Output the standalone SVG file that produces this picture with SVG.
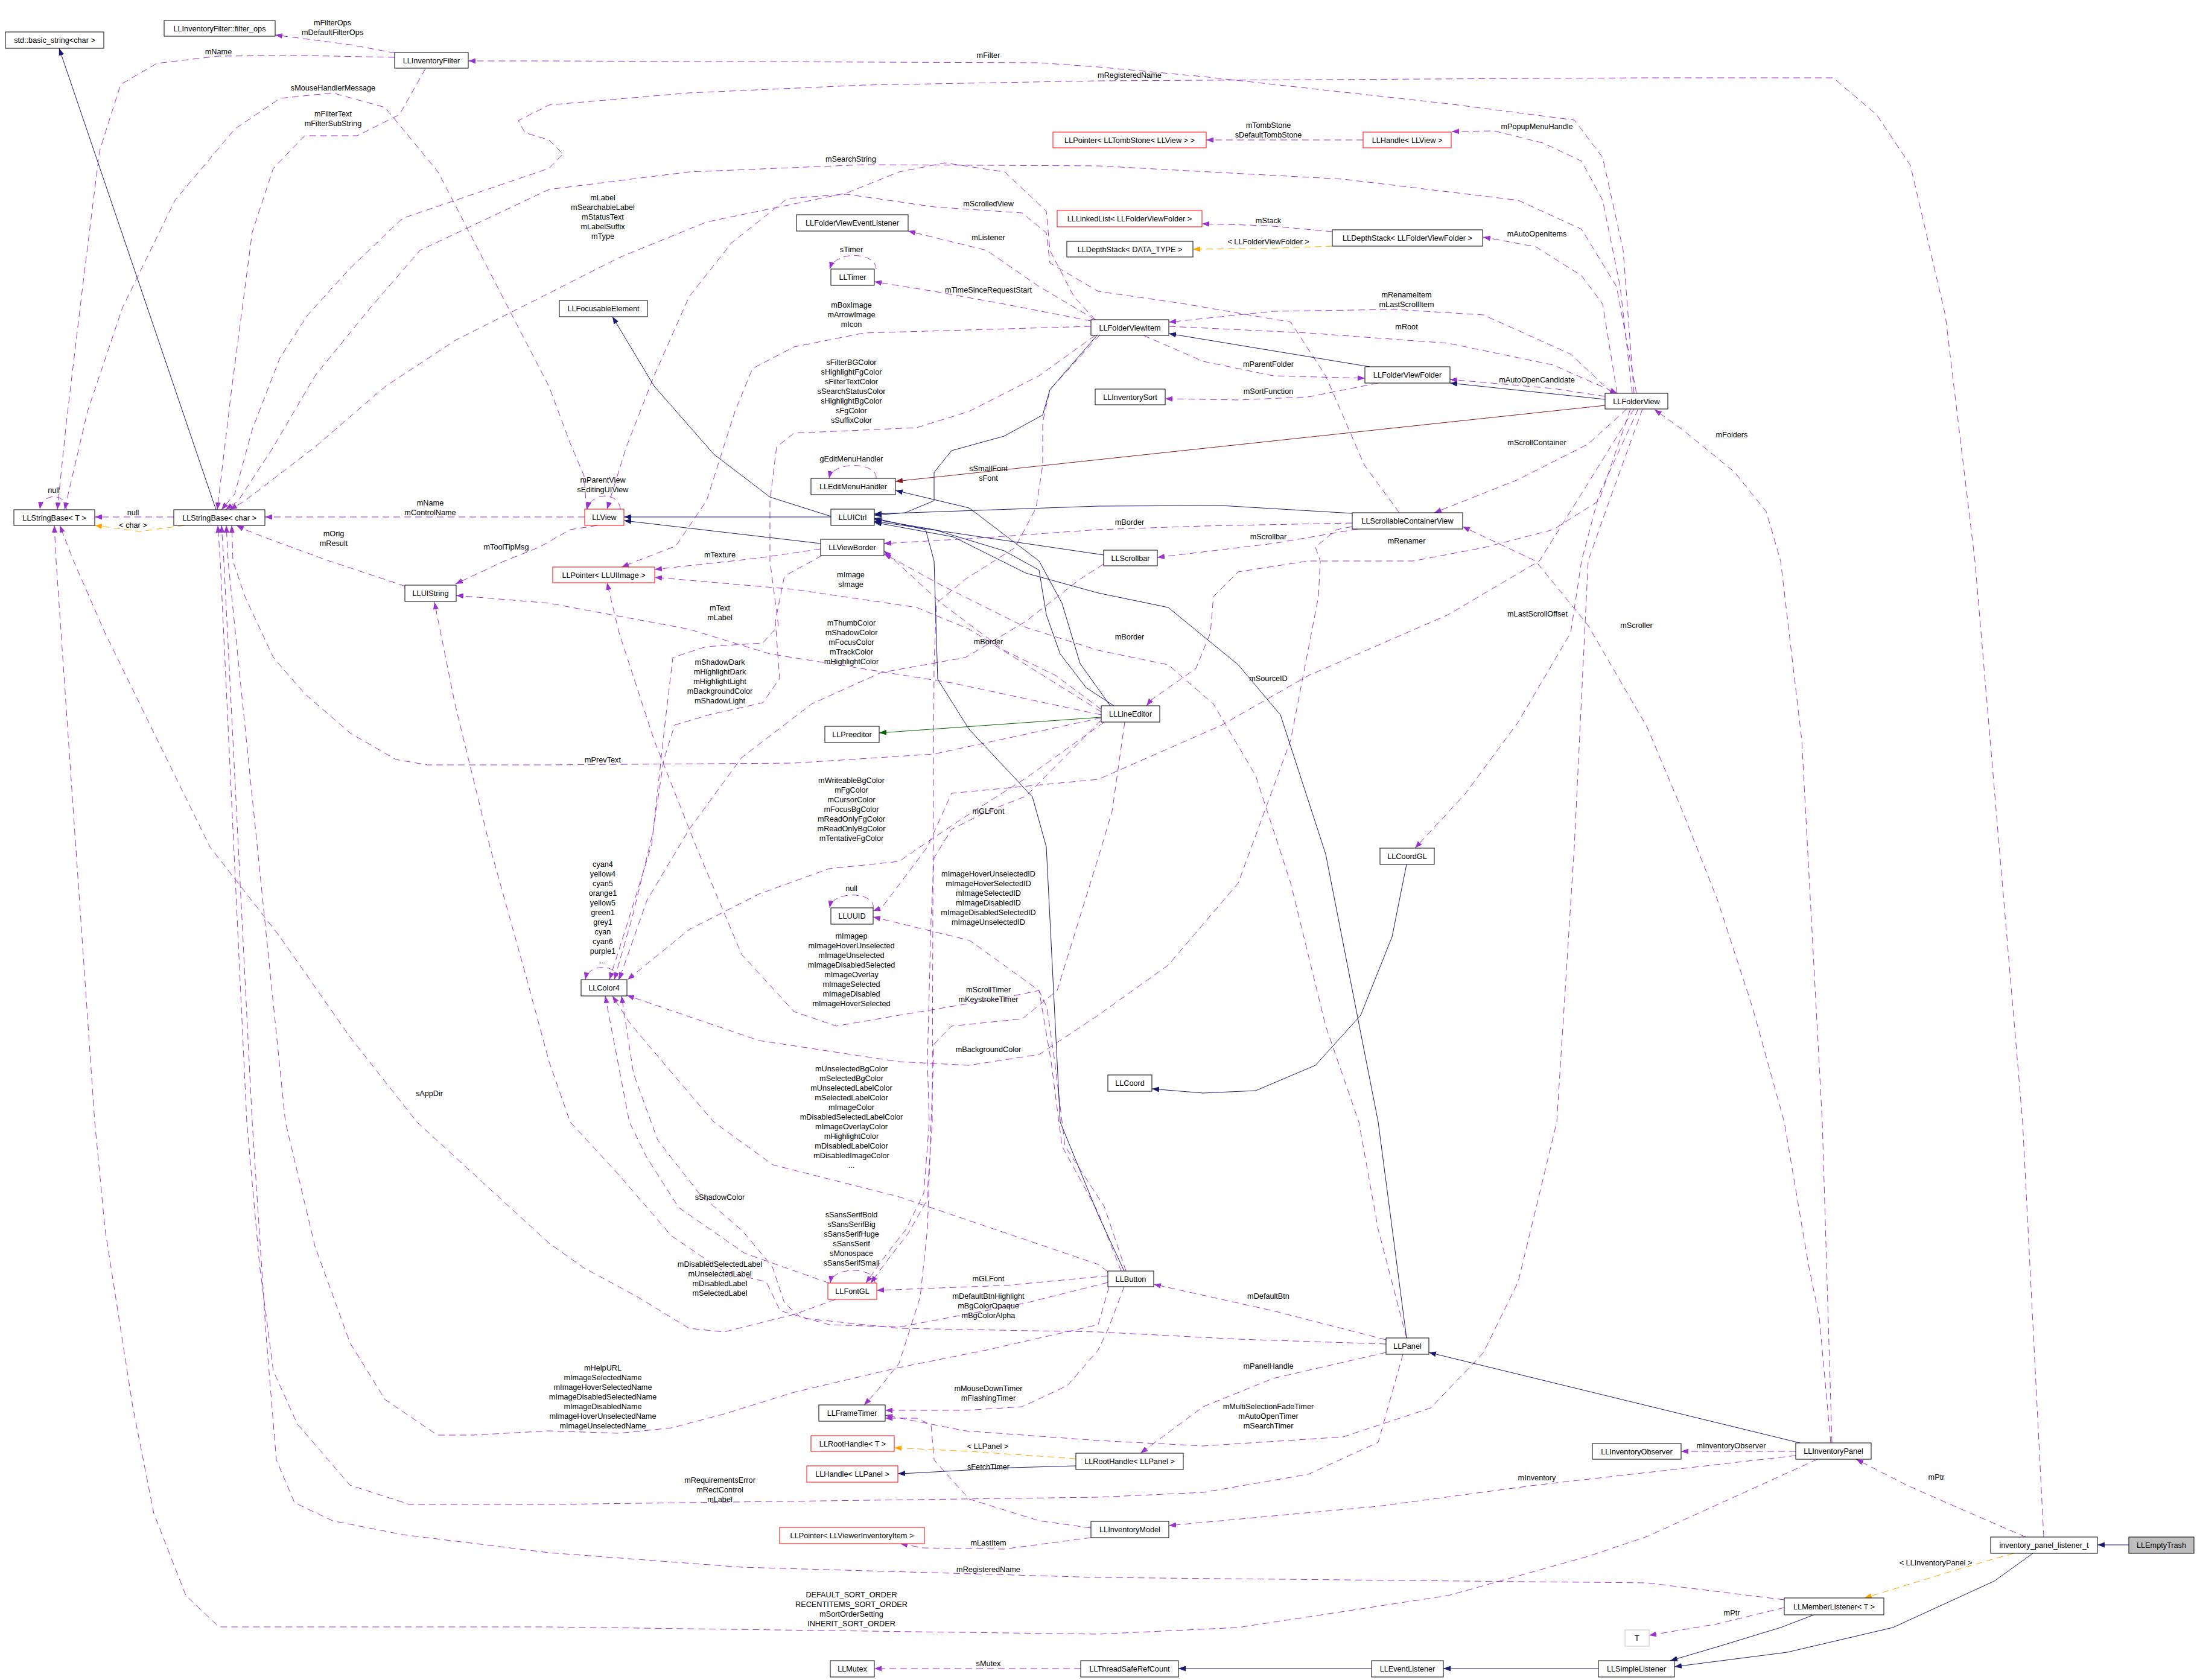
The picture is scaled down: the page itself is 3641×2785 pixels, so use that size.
<svg xmlns="http://www.w3.org/2000/svg" width="3641" height="2785" viewBox="0 0 3641 2785">
<style>
text{font-family:"Liberation Sans",Arial,sans-serif;font-size:12.7px;fill:#000;text-anchor:middle}
.n rect{fill:#fff;stroke:#000;stroke-width:1}
.r rect{stroke:#ff0000}
.gy rect{stroke:#bfbfbf}
.gf rect{fill:#bfbfbf}
#edges path{fill:none;stroke-width:1;stroke-linejoin:round}
.u{stroke:#9a32cd;stroke-dasharray:11,7;marker-end:url(#mu)}
.o{stroke:#ffa500;stroke-dasharray:11,7;marker-end:url(#mo)}
.b{stroke:#191970;marker-end:url(#mb)}
.dr{stroke:#8b1a1a;marker-end:url(#mr)}
.gr{stroke:#006400;marker-end:url(#mg)}
</style>
<defs>
<marker id="mu" markerUnits="userSpaceOnUse" markerWidth="12" markerHeight="9" refX="12" refY="4.5" orient="auto" viewBox="0 0 12 9"><path d="M0,0 L12,4.5 L0,9 z" fill="#9a32cd"/></marker>
<marker id="mo" markerUnits="userSpaceOnUse" markerWidth="12" markerHeight="9" refX="12" refY="4.5" orient="auto" viewBox="0 0 12 9"><path d="M0,0 L12,4.5 L0,9 z" fill="#ffa500"/></marker>
<marker id="mb" markerUnits="userSpaceOnUse" markerWidth="12" markerHeight="9" refX="12" refY="4.5" orient="auto" viewBox="0 0 12 9"><path d="M0,0 L12,4.5 L0,9 z" fill="#191970"/></marker>
<marker id="mr" markerUnits="userSpaceOnUse" markerWidth="12" markerHeight="9" refX="12" refY="4.5" orient="auto" viewBox="0 0 12 9"><path d="M0,0 L12,4.5 L0,9 z" fill="#8b1a1a"/></marker>
<marker id="mg" markerUnits="userSpaceOnUse" markerWidth="12" markerHeight="9" refX="12" refY="4.5" orient="auto" viewBox="0 0 12 9"><path d="M0,0 L12,4.5 L0,9 z" fill="#006400"/></marker>
</defs>
<rect width="3641" height="2785" fill="#fff"/>
<g id="edges">
<path class="u" d="M110,845 C112,818 70,815 66,844"/>
<path class="u" d="M288,857 L157,857"/>
<path class="u" d="M655,88 L580,74 L456,58"/>
<path class="u" d="M654,95 L500,92 L362,93 L260,105 L200,140 L165,250 L140,450 L110,700 L95,845"/>
<path class="u" d="M705,114 L662,190 L592,225 L505,225 L453,279 L418,385 L383,652 L360,845"/>
<path class="u" d="M972,844 L968,789 L945,735 L910,641 L824,475 L726,285 L638,178 L551,154 L464,163 L389,214 L290,332 L203,510 L145,682 L107,845"/>
<path class="u" d="M1028,844 C1026,815 980,815 973,844"/>
<path class="u" d="M969,857 L439,857"/>
<path class="u" d="M672,972 L540,928 L450,895 L406,878 L392,871"/>
<path class="u" d="M990,871 L945,878 L894,907 L836,930 L755,968"/>
<path class="u" d="M1825,1185 L1577,1132 L1276,1084 L1142,1043 L910,1000 L756,987"/>
<path class="u" d="M2708,652 L2690,415 L2656,261 L2609,199 L2400,172 L1994,127 L1820,111 L1722,104 L910,101 L776,101"/>
<path class="u" d="M3387,2548 L3352,1860 L3273,930 L3224,523 L3166,274 L3110,190 L3038,129 L2730,129 L1820,134 L1432,141 L1142,154 L910,174 L859,200 L870,220 L910,232 L933,255 L910,279 L667,362 L580,445 L510,522 L464,593 L418,712 L389,819 L367,845"/>
<path class="u" d="M2712,652 L2679,475 L2621,380 L2516,332 L2226,297 L1820,275 L1432,273 L1142,285 L910,314 L696,415 L609,516 L522,623 L453,741 L395,830 L374,845"/>
<path class="u" d="M1815,530 L1780,492 L1740,415 L1734,350 L1665,285 L1566,270 L1490,285 L1403,320 L1316,338 L1171,368 L1026,427 L910,486 L755,564 L638,641 L522,741 L406,830 L381,845"/>
<path class="u" d="M2319,850 L2261,771 L2197,623 L2139,534 L1965,504 L1820,483 L1740,436 L1734,386 L1694,353 L1548,343 L1403,322 L1305,329 L1212,403 L1142,492 L1084,623 L1038,741 L1006,844"/>
<path class="u" d="M1815,530 L1722,475 L1635,415 L1505,383"/>
<path class="u" d="M1808,532 L1664,504 L1548,483 L1449,467"/>
<path class="u" d="M1452,446 C1452,418 1385,414 1375,446"/>
<path class="u" d="M1808,541 L1432,552 L1316,575 L1247,611 L1218,682 L1171,830 L1120,905 L1030,940"/>
<path class="u" d="M1815,556 L1722,623 L1606,682 L1519,709 L1316,718 L1287,741 L1276,830 L1276,930 L1290,1037 L1264,1066 L1170,1072 L1115,1090 L1102,1200 L1080,1400 L1040,1530 L1010,1624"/>
<path class="u" d="M1362,921 L1300,955 L1285,1030 L1292,1125 L1264,1165 L1175,1185 L1118,1202 L1100,1260 L1082,1380 L1048,1520 L1018,1624"/>
<path class="u" d="M1360,910 L1258,925 L1085,944"/>
<path class="u" d="M2241,867 L1994,872 L1820,878 L1606,893 L1465,901"/>
<path class="u" d="M2331,2218 L2284,2038 L2252,1860 L2197,1701 L2139,1464 L2081,1286 L2011,1167 L1936,1102 L1820,1078 L1700,1040 L1560,970 L1465,918"/>
<path class="u" d="M1825,1176 L1750,1120 L1664,1078 L1560,1000 L1500,945 L1465,913"/>
<path class="u" d="M1829,935 L1790,960 L1700,1030 L1600,1090 L1460,1115 L1345,1167 L1229,1256 L1142,1375 L1072,1493 L1026,1624"/>
<path class="u" d="M2250,877 L2110,901 L1918,924"/>
<path class="u" d="M2241,873 L2215,878 L2180,907 L2188,930 L2185,989 L2139,1227 L2052,1464 L1936,1600 L1820,1683 L1722,1748 L1606,1766 L1490,1760 L1258,1725 L1039,1650"/>
<path class="u" d="M2705,652 L2685,475 L2656,332 L2621,267 L2557,237 L2476,217 L2406,218"/>
<path class="u" d="M2680,652 L2656,504 L2621,457 L2545,409 L2458,393"/>
<path class="u" d="M2672,652 L2603,587 L2458,522 L2313,513 L2110,516 L1937,534"/>
<path class="u" d="M1937,541 L2168,552 L2400,569 L2574,605 L2680,652"/>
<path class="u" d="M2660,657 L2574,644 L2403,629"/>
<path class="u" d="M2696,678 L2632,736 L2516,795 L2377,850"/>
<path class="u" d="M2702,678 L2650,830 L2574,878 L2458,908 L2342,930 L2168,930 L2052,948 L2011,989 L2006,1049 L1982,1108 L1907,1161 L1900,1170"/>
<path class="u" d="M2715,678 L2650,820 L2621,930 L2603,1049 L2516,1197 L2429,1315 L2345,1406"/>
<path class="u" d="M2708,678 L2620,820 L2551,930 L2400,1019 L2168,1120 L2023,1203 L1820,1292 L1577,1315 L1537,1404 L1461,1505 L1447,1510"/>
<path class="u" d="M2722,678 L2660,850 L2632,930 L2609,1404 L2580,1860 L2516,2125 L2458,2243 L2371,2334 L2226,2382 L1994,2397 L1820,2388 L1600,2372 L1467,2346"/>
<path class="u" d="M3036,2392 L3020,1860 L2986,1227 L2951,930 L2927,848 L2875,783 L2788,712 L2742,679"/>
<path class="u" d="M3034,2392 L3015,2184 L2997,2096 L2957,1860 L2904,1669 L2846,1491 L2788,1344 L2730,1206 L2632,1037 L2545,930 L2424,873"/>
<path class="u" d="M2976,2406 L2786,2406"/>
<path class="u" d="M2976,2413 L2730,2441 L2545,2462 L2284,2497 L1937,2529"/>
<path class="u" d="M3012,2419 L2730,2547 L2632,2580 L2400,2645 L2052,2698 L1820,2709 L910,2697 L363,2697 L308,2645 L255,2509 L220,2332 L174,2037 L157,1860 L93,930 L90,871"/>
<path class="u" d="M3357,2548 L3253,2503 L3160,2462 L3076,2419"/>
<path class="u" d="M2957,2665 L2846,2692 L2733,2711"/>
<path class="u" d="M2957,2652 L2730,2624 L1820,2615 L1229,2598 L910,2574 L667,2544 L551,2521 L488,2491 L458,2420 L441,2214 L418,1860 L371,930 L367,871"/>
<path class="u" d="M2325,2245 L2284,2391 L2168,2444 L1994,2474 L1820,2482 L910,2494 L679,2494 L580,2462 L493,2361 L453,2273 L430,2096 L409,1860 L365,930 L361,871"/>
<path class="u" d="M1838,2133 L1820,2196 L1635,2238 L1490,2267 L1316,2308 L1200,2344 L1113,2367 L1026,2376 L910,2372 L784,2379 L725,2379 L638,2320 L580,2226 L522,2066 L473,1860 L378,930 L375,871"/>
<path class="u" d="M1825,1190 L1548,1250 L1316,1265 L910,1268 L708,1268 L656,1259 L580,1215 L505,1150 L453,1090 L406,989 L386,930 L384,871"/>
<path class="u" d="M1830,1197 L1700,1290 L1590,1360 L1525,1404 L1490,1428 L1374,1440 L1258,1482 L1142,1541 L1040,1624"/>
<path class="u" d="M1825,1194 L1700,1320 L1636,1345 L1577,1375 L1548,1422 L1543,1523 L1537,1760 L1540,1860 L1531,1978 L1502,2037 L1461,2090 L1435,2127"/>
<path class="u" d="M1864,1197 L1843,1345 L1820,1422 L1752,1642 L1694,1689 L1577,1701 L1548,1731 L1543,1860 L1537,2037 L1525,2150 L1490,2260 L1450,2310 L1432,2329"/>
<path class="u" d="M1825,1180 L1606,1043 L1519,1007 L1316,977 L1085,957"/>
<path class="u" d="M1822,556 L1740,646 L1728,700 L1728,771 L1717,842 L1682,908 L1600,960 L1552,1000 L1548,1100 L1546,1500 L1545,1860 L1536,1990 L1505,2045 L1470,2090 L1443,2127"/>
<path class="u" d="M1836,2115 L1665,2131 L1453,2139"/>
<path class="u" d="M1836,2108 L1820,2096 L1490,1984 L1281,1931 L1183,1860 L1113,1778 L1043,1695 L1015,1651"/>
<path class="u" d="M1374,2127 L1235,2078 L1125,2002 L1072,1919 L1043,1860 L1003,1651"/>
<path class="u" d="M1450,2127 C1452,2100 1380,2098 1376,2127"/>
<path class="u" d="M1385,2154 L1316,2179 L1200,2208 L1142,2202 L1055,2149 L968,2102 L910,2061 L691,1860 L580,1719 L464,1553 L348,1404 L261,1227 L174,1049 L122,930 L99,871"/>
<path class="u" d="M1836,2126 L1700,2160 L1490,2200 L1374,2196 L1293,2173 L1270,2125 L1200,2108 L1113,2049 L1026,1948 L945,1860 L910,1760 L870,1612 L812,1404 L754,1167 L720,998"/>
<path class="u" d="M2297,2228 L2052,2220 L1820,2208 L1490,2202 L1328,2185 L1300,2160 L1280,2100 L1230,2040 L1160,1980 L1090,1890 L1050,1780 L1030,1651"/>
<path class="u" d="M1866,2107 L1830,2000 L1765,1900 L1748,1760 L1735,1670 L1722,1642 L1607,1559 L1447,1520"/>
<path class="u" d="M1858,2107 L1820,2010 L1760,1900 L1742,1760 L1722,1642 L1664,1654 L1490,1683 L1386,1701 L1316,1677 L1229,1582 L1154,1404 L1084,1227 L1026,1049 L1006,966"/>
<path class="u" d="M1863,2133 L1837,2202 L1820,2238 L1769,2297 L1694,2332 L1600,2338 L1467,2338"/>
<path class="u" d="M2297,2221 L2110,2173 L1912,2129"/>
<path class="u" d="M2297,2242 L2110,2285 L1994,2332 L1890,2409"/>
<path class="u" d="M1808,2549 L1664,2568 L1530,2566 L1492,2559"/>
<path class="u" d="M1808,2533 L1722,2521 L1606,2485 L1548,2420 L1543,2362 L1519,2351 L1467,2351"/>
<path class="u" d="M1791,2766 L1449,2766"/>
<path class="u" d="M2259,232 L1999,232"/>
<path class="u" d="M2208,384 L2099,374 L1992,371"/>
<path class="u" d="M2284,635 L2168,658 L2052,663 L1931,661"/>
<path class="u" d="M1895,556 L1994,599 L2110,623 L2262,627"/>
<path class="u" d="M1447,1506 C1452,1478 1380,1475 1375,1505"/>
<path class="u" d="M1025,1624 C1025,1598 975,1596 970,1624"/>
<path class="u" d="M1452,793 C1455,766 1380,763 1374,793"/>
<path class="o" d="M306,871 L232,881 L157,871"/>
<path class="o" d="M2208,408 L2099,412 L1977,413"/>
<path class="o" d="M1783,2418 L1606,2406 L1482,2400"/>
<path class="o" d="M3337,2575 L3250,2600 L3090,2649"/>
<path class="b" d="M358,845 L98,80"/>
<path class="b" d="M1377,857 L1034,857"/>
<path class="b" d="M1360,901 L1034,863"/>
<path class="b" d="M1377,856 L1276,824 L1183,753 L1084,640 L1015,525"/>
<path class="b" d="M1818,556 L1740,646 L1728,688 L1664,723 L1577,747 L1548,783 L1548,830 L1500,850 L1449,854"/>
<path class="b" d="M2270,608 L1937,553"/>
<path class="b" d="M2660,662 L2403,635"/>
<path class="b" d="M2241,851 L2023,838 L1820,839 L1449,852"/>
<path class="b" d="M1829,920 L1449,864"/>
<path class="b" d="M1846,1170 L1800,1140 L1757,1084 L1734,1019 L1722,945 L1664,913 L1548,878 L1449,861"/>
<path class="b" d="M1840,1170 L1790,1100 L1760,1000 L1722,930 L1606,842 L1484,813"/>
<path class="b" d="M1863,2107 L1820,2014 L1757,1860 L1740,1523 L1734,1404 L1711,1321 L1606,1209 L1554,1126 L1548,930 L1534,878 L1449,859"/>
<path class="b" d="M2331,2218 L2284,1860 L2197,1416 L2122,1185 L2052,1102 L1936,1007 L1820,983 L1700,950 L1580,890 L1449,866"/>
<path class="b" d="M2331,1433 L2307,1553 L2255,1683 L2180,1766 L2081,1808 L1994,1812 L1909,1805"/>
<path class="b" d="M2983,2392 L2368,2242"/>
<path class="b" d="M1783,2430 L1676,2433 L1513,2442 L1488,2443"/>
<path class="b" d="M3528,2561 L3476,2561"/>
<path class="b" d="M3369,2575 L3305,2621 L3137,2698 L2962,2739 L2775,2763"/>
<path class="b" d="M3006,2677 L2951,2698 L2846,2730 L2768,2753"/>
<path class="b" d="M2649,2766 L2392,2766"/>
<path class="b" d="M2273,2766 L1953,2766"/>
<path class="dr" d="M2660,672 L1484,798"/>
<path class="gr" d="M1825,1189 L1457,1215"/>
</g>
<g id="labels">
<text x="551" y="41.5">mFilterOps<tspan x="551" dy="16">mDefaultFilterOps</tspan></text>
<text x="362" y="89.5">mName</text>
<text x="552" y="149.5">sMouseHandlerMessage</text>
<text x="552" y="192.5">mFilterText<tspan x="552" dy="16">mFilterSubString</tspan></text>
<text x="89" y="816.5">null</text>
<text x="713" y="837.5">mName<tspan x="713" dy="16">mControlName</tspan></text>
<text x="220.5" y="853.5">null</text>
<text x="220.5" y="874.5">&lt; char &gt;</text>
<text x="553" y="888.5">mOrig<tspan x="553" dy="16">mResult</tspan></text>
<text x="839" y="910.5">mToolTipMsg</text>
<text x="1638" y="95.5">mFilter</text>
<text x="1410" y="267.5">mSearchString</text>
<text x="999" y="331.5">mLabel<tspan x="999" dy="16">mSearchableLabel</tspan><tspan x="999" dy="16">mStatusText</tspan><tspan x="999" dy="16">mLabelSuffix</tspan><tspan x="999" dy="16">mType</tspan></text>
<text x="1638" y="342">mScrolledView</text>
<text x="1638" y="397.5">mListener</text>
<text x="1411" y="417.5">sTimer</text>
<text x="1638" y="484.5">mTimeSinceRequestStart</text>
<text x="1411" y="509.5">mBoxImage<tspan x="1411" dy="16">mArrowImage</tspan><tspan x="1411" dy="16">mIcon</tspan></text>
<text x="1411" y="604.5">sFilterBGColor<tspan x="1411" dy="16">sHighlightFgColor</tspan><tspan x="1411" dy="16">sFilterTextColor</tspan><tspan x="1411" dy="16">sSearchStatusColor</tspan><tspan x="1411" dy="16">sHighlightBgColor</tspan><tspan x="1411" dy="16">sFgColor</tspan><tspan x="1411" dy="16">sSuffixColor</tspan></text>
<text x="1411" y="764.5">gEditMenuHandler</text>
<text x="1638" y="780.5">sSmallFont<tspan x="1638" dy="16">sFont</tspan></text>
<text x="999" y="799.5">mParentView<tspan x="999" dy="16">sEditingUIView</tspan></text>
<text x="1193" y="923.5">mTexture</text>
<text x="1872" y="128.5">mRegisteredName</text>
<text x="2102" y="211.5">mTombStone<tspan x="2102" dy="16">sDefaultTombStone</tspan></text>
<text x="2547" y="213.5">mPopupMenuHandle</text>
<text x="2102" y="369.5">mStack</text>
<text x="2102" y="404.5">&lt; LLFolderViewFolder &gt;</text>
<text x="2547" y="391.5">mAutoOpenItems</text>
<text x="2331" y="492.5">mRenameItem<tspan x="2331" dy="16">mLastScrollItem</tspan></text>
<text x="2331" y="546">mRoot</text>
<text x="2102" y="607.5">mParentFolder</text>
<text x="2547" y="633.5">mAutoOpenCandidate</text>
<text x="2102" y="652.5">mSortFunction</text>
<text x="2547" y="737.5">mScrollContainer</text>
<text x="1872" y="869.5">mBorder</text>
<text x="2102" y="893.5">mScrollbar</text>
<text x="2331" y="900.5">mRenamer</text>
<text x="2870" y="725">mFolders</text>
<text x="711.5" y="1817">sAppDir</text>
<text x="1410" y="957">mImage<tspan x="1410" dy="16">sImage</tspan></text>
<text x="1193" y="1011.5">mText<tspan x="1193" dy="16">mLabel</tspan></text>
<text x="1411" y="1036.5">mThumbColor<tspan x="1411" dy="16">mShadowColor</tspan><tspan x="1411" dy="16">mFocusColor</tspan><tspan x="1411" dy="16">mTrackColor</tspan><tspan x="1411" dy="16">mHighlightColor</tspan></text>
<text x="1638" y="1068">mBorder</text>
<text x="1193" y="1101.5">mShadowDark<tspan x="1193" dy="16">mHighlightDark</tspan><tspan x="1193" dy="16">mHighlightLight</tspan><tspan x="1193" dy="16">mBackgroundColor</tspan><tspan x="1193" dy="16">mShadowLight</tspan></text>
<text x="999" y="1263.5">mPrevText</text>
<text x="1411" y="1297.5">mWriteableBgColor<tspan x="1411" dy="16">mFgColor</tspan><tspan x="1411" dy="16">mCursorColor</tspan><tspan x="1411" dy="16">mFocusBgColor</tspan><tspan x="1411" dy="16">mReadOnlyFgColor</tspan><tspan x="1411" dy="16">mReadOnlyBgColor</tspan><tspan x="1411" dy="16">mTentativeFgColor</tspan></text>
<text x="1638" y="1348.5">mGLFont</text>
<text x="999" y="1436.5">cyan4<tspan x="999" dy="16">yellow4</tspan><tspan x="999" dy="16">cyan5</tspan><tspan x="999" dy="16">orange1</tspan><tspan x="999" dy="16">yellow5</tspan><tspan x="999" dy="16">green1</tspan><tspan x="999" dy="16">grey1</tspan><tspan x="999" dy="16">cyan</tspan><tspan x="999" dy="16">cyan6</tspan><tspan x="999" dy="16">purple1</tspan><tspan x="999" dy="16">...</tspan></text>
<text x="1411" y="1476.5">null</text>
<text x="1638" y="1452.5">mImageHoverUnselectedID<tspan x="1638" dy="16">mImageHoverSelectedID</tspan><tspan x="1638" dy="16">mImageSelectedID</tspan><tspan x="1638" dy="16">mImageDisabledID</tspan><tspan x="1638" dy="16">mImageDisabledSelectedID</tspan><tspan x="1638" dy="16">mImageUnselectedID</tspan></text>
<text x="1411" y="1555.5">mImagep<tspan x="1411" dy="16">mImageHoverUnselected</tspan><tspan x="1411" dy="16">mImageUnselected</tspan><tspan x="1411" dy="16">mImageDisabledSelected</tspan><tspan x="1411" dy="16">mImageOverlay</tspan><tspan x="1411" dy="16">mImageSelected</tspan><tspan x="1411" dy="16">mImageDisabled</tspan><tspan x="1411" dy="16">mImageHoverSelected</tspan></text>
<text x="1638" y="1644.5">mScrollTimer<tspan x="1638" dy="16">mKeystrokeTimer</tspan></text>
<text x="1638" y="1743.5">mBackgroundColor</text>
<text x="1411" y="1775.5">mUnselectedBgColor<tspan x="1411" dy="16">mSelectedBgColor</tspan><tspan x="1411" dy="16">mUnselectedLabelColor</tspan><tspan x="1411" dy="16">mSelectedLabelColor</tspan><tspan x="1411" dy="16">mImageColor</tspan><tspan x="1411" dy="16">mDisabledSelectedLabelColor</tspan><tspan x="1411" dy="16">mImageOverlayColor</tspan><tspan x="1411" dy="16">mHighlightColor</tspan><tspan x="1411" dy="16">mDisabledLabelColor</tspan><tspan x="1411" dy="16">mDisabledImageColor</tspan><tspan x="1411" dy="16">...</tspan></text>
<text x="1193" y="1989">sShadowColor</text>
<text x="1411" y="2017.5">sSansSerifBold<tspan x="1411" dy="16">sSansSerifBig</tspan><tspan x="1411" dy="16">sSansSerifHuge</tspan><tspan x="1411" dy="16">sSansSerif</tspan><tspan x="1411" dy="16">sMonospace</tspan><tspan x="1411" dy="16">sSansSerifSmall</tspan></text>
<text x="1193" y="2100">mDisabledSelectedLabel<tspan x="1193" dy="16">mUnselectedLabel</tspan><tspan x="1193" dy="16">mDisabledLabel</tspan><tspan x="1193" dy="16">mSelectedLabel</tspan></text>
<text x="1638" y="2123.5">mGLFont</text>
<text x="1638" y="2153">mDefaultBtnHighlight<tspan x="1638" dy="16">mBgColorOpaque</tspan><tspan x="1638" dy="16">mBgColorAlpha</tspan></text>
<text x="999" y="2271.5">mHelpURL<tspan x="999" dy="16">mImageSelectedName</tspan><tspan x="999" dy="16">mImageHoverSelectedName</tspan><tspan x="999" dy="16">mImageDisabledSelectedName</tspan><tspan x="999" dy="16">mImageDisabledName</tspan><tspan x="999" dy="16">mImageHoverUnselectedName</tspan><tspan x="999" dy="16">mImageUnselectedName</tspan></text>
<text x="1638" y="2305.5">mMouseDownTimer<tspan x="1638" dy="16">mFlashingTimer</tspan></text>
<text x="1637" y="2402">&lt; LLPanel &gt;</text>
<text x="1638" y="2435.5">sFetchTimer</text>
<text x="1193" y="2458">mRequirementsError<tspan x="1193" dy="16">mRectControl</tspan><tspan x="1193" dy="16">mLabel</tspan></text>
<text x="1638" y="2561.5">mLastItem</text>
<text x="1638" y="2606">mRegisteredName</text>
<text x="1411" y="2648">DEFAULT_SORT_ORDER<tspan x="1411" dy="16">RECENTITEMS_SORT_ORDER</tspan><tspan x="1411" dy="16">mSortOrderSetting</tspan><tspan x="1411" dy="16">INHERIT_SORT_ORDER</tspan></text>
<text x="1638" y="2761.5">sMutex</text>
<text x="2102" y="2153">mDefaultBtn</text>
<text x="2102" y="2268.5">mPanelHandle</text>
<text x="2102" y="2336">mMultiSelectionFadeTimer<tspan x="2102" dy="16">mAutoOpenTimer</tspan><tspan x="2102" dy="16">mSearchTimer</tspan></text>
<text x="2547" y="2453.5">mInventory</text>
<text x="1872" y="1059.5">mBorder</text>
<text x="2102" y="1129">mSourceID</text>
<text x="2548" y="1021.5">mLastScrollOffset</text>
<text x="2712" y="1040.5">mScroller</text>
<text x="2869" y="2400.5">mInventoryObserver</text>
<text x="3209" y="2452.5">mPtr</text>
<text x="3208" y="2594.5">&lt; LLInventoryPanel &gt;</text>
<text x="2870" y="2678">mPtr</text>
</g>
<g id="n1" class="n"><rect x="9" y="53" width="163" height="27"/><text x="90.5" y="71">std::basic_string&lt;char &gt;</text></g>
<g id="n2" class="n"><rect x="272" y="34" width="184" height="26"/><text x="364" y="51.5">LLInventoryFilter::filter_ops</text></g>
<g id="n3" class="n"><rect x="654" y="87" width="122" height="26"/><text x="715" y="104.5">LLInventoryFilter</text></g>
<g id="n4" class="n"><rect x="23" y="845" width="134" height="26"/><text x="90" y="862.5">LLStringBase&lt; T &gt;</text></g>
<g id="n5" class="n"><rect x="288" y="845" width="151" height="26"/><text x="363.5" y="862.5">LLStringBase&lt; char &gt;</text></g>
<g id="n6" class="n r"><rect x="1745" y="219" width="254" height="26"/><text x="1872" y="236.5">LLPointer&lt; LLTombStone&lt; LLView &gt; &gt;</text></g>
<g id="n7" class="n r"><rect x="2259" y="219" width="146" height="26"/><text x="2332" y="236.5">LLHandle&lt; LLView &gt;</text></g>
<g id="n8" class="n r"><rect x="1752" y="349" width="240" height="27"/><text x="1872" y="367">LLLinkedList&lt; LLFolderViewFolder &gt;</text></g>
<g id="n9" class="n"><rect x="1768" y="400" width="209" height="26"/><text x="1872.5" y="417.5">LLDepthStack&lt; DATA_TYPE &gt;</text></g>
<g id="n10" class="n"><rect x="2208" y="381" width="249" height="27"/><text x="2332.5" y="399">LLDepthStack&lt; LLFolderViewFolder &gt;</text></g>
<g id="n11" class="n"><rect x="1320" y="356" width="185" height="27"/><text x="1412.5" y="374">LLFolderViewEventListener</text></g>
<g id="n12" class="n"><rect x="1377" y="446" width="72" height="27"/><text x="1413" y="464">LLTimer</text></g>
<g id="n13" class="n"><rect x="927" y="498" width="146" height="27"/><text x="1000" y="516">LLFocusableElement</text></g>
<g id="n14" class="n"><rect x="1808" y="530" width="129" height="26"/><text x="1872.5" y="547.5">LLFolderViewItem</text></g>
<g id="n15" class="n"><rect x="1815" y="645" width="116" height="26"/><text x="1873" y="662.5">LLInventorySort</text></g>
<g id="n16" class="n"><rect x="2262" y="608" width="141" height="27"/><text x="2332.5" y="626">LLFolderViewFolder</text></g>
<g id="n17" class="n"><rect x="2660" y="652" width="104" height="26"/><text x="2712" y="669.5">LLFolderView</text></g>
<g id="n18" class="n"><rect x="1344" y="793" width="140" height="27"/><text x="1414" y="811">LLEditMenuHandler</text></g>
<g id="n19" class="n r"><rect x="969" y="844" width="65" height="27"/><text x="1001.5" y="862">LLView</text></g>
<g id="n20" class="n"><rect x="1377" y="844" width="72" height="27"/><text x="1413" y="862">LLUICtrl</text></g>
<g id="n21" class="n"><rect x="1360" y="894" width="105" height="27"/><text x="1412.5" y="912">LLViewBorder</text></g>
<g id="n22" class="n"><rect x="2241" y="850" width="183" height="27"/><text x="2332.5" y="868">LLScrollableContainerView</text></g>
<g id="n23" class="n"><rect x="1829" y="912" width="89" height="26"/><text x="1873.5" y="929.5">LLScrollbar</text></g>
<g id="n24" class="n r"><rect x="916" y="940" width="169" height="26"/><text x="1000.5" y="957.5">LLPointer&lt; LLUIImage &gt;</text></g>
<g id="n25" class="n"><rect x="671" y="970" width="85" height="27"/><text x="713.5" y="988">LLUIString</text></g>
<g id="n26" class="n"><rect x="1825" y="1170" width="97" height="27"/><text x="1873.5" y="1188">LLLineEditor</text></g>
<g id="n27" class="n"><rect x="1367" y="1204" width="90" height="27"/><text x="1412" y="1222">LLPreeditor</text></g>
<g id="n28" class="n"><rect x="2287" y="1406" width="90" height="27"/><text x="2332" y="1424">LLCoordGL</text></g>
<g id="n29" class="n"><rect x="1377" y="1505" width="70" height="27"/><text x="1412" y="1523">LLUUID</text></g>
<g id="n30" class="n"><rect x="963" y="1624" width="76" height="27"/><text x="1001" y="1642">LLColor4</text></g>
<g id="n31" class="n"><rect x="1836" y="1782" width="73" height="27"/><text x="1872.5" y="1800">LLCoord</text></g>
<g id="n32" class="n"><rect x="1836" y="2107" width="76" height="26"/><text x="1874" y="2124.5">LLButton</text></g>
<g id="n33" class="n r"><rect x="1372" y="2127" width="81" height="27"/><text x="1412.5" y="2145">LLFontGL</text></g>
<g id="n34" class="n"><rect x="2297" y="2218" width="71" height="27"/><text x="2332.5" y="2236">LLPanel</text></g>
<g id="n35" class="n"><rect x="1357" y="2329" width="110" height="27"/><text x="1412" y="2347">LLFrameTimer</text></g>
<g id="n36" class="n r"><rect x="1344" y="2380" width="138" height="26"/><text x="1413" y="2397.5">LLRootHandle&lt; T &gt;</text></g>
<g id="n37" class="n"><rect x="2639" y="2393" width="147" height="26"/><text x="2712.5" y="2410.5">LLInventoryObserver</text></g>
<g id="n38" class="n"><rect x="2976" y="2392" width="125" height="27"/><text x="3038.5" y="2410">LLInventoryPanel</text></g>
<g id="n39" class="n"><rect x="1783" y="2409" width="178" height="27"/><text x="1872" y="2427">LLRootHandle&lt; LLPanel &gt;</text></g>
<g id="n40" class="n r"><rect x="1337" y="2430" width="151" height="27"/><text x="1412.5" y="2448">LLHandle&lt; LLPanel &gt;</text></g>
<g id="n41" class="n"><rect x="1808" y="2522" width="129" height="27"/><text x="1872.5" y="2540">LLInventoryModel</text></g>
<g id="n42" class="n r"><rect x="1292" y="2532" width="240" height="27"/><text x="1412" y="2550">LLPointer&lt; LLViewerInventoryItem &gt;</text></g>
<g id="n43" class="n"><rect x="3299" y="2548" width="177" height="27"/><text x="3387.5" y="2566">inventory_panel_listener_t</text></g>
<g id="n44" class="n gf"><rect x="3528" y="2548" width="108" height="27"/><text x="3582" y="2566">LLEmptyTrash</text></g>
<g id="n45" class="n"><rect x="2957" y="2649" width="165" height="28"/><text x="3039.5" y="2667.5">LLMemberListener&lt; T &gt;</text></g>
<g id="n46" class="n gy"><rect x="2693" y="2702" width="40" height="27"/><text x="2713" y="2720">T</text></g>
<g id="n47" class="n"><rect x="1376" y="2753" width="73" height="27"/><text x="1412.5" y="2771">LLMutex</text></g>
<g id="n48" class="n"><rect x="1791" y="2753" width="162" height="27"/><text x="1872" y="2771">LLThreadSafeRefCount</text></g>
<g id="n49" class="n"><rect x="2273" y="2753" width="119" height="27"/><text x="2332.5" y="2771">LLEventListener</text></g>
<g id="n50" class="n"><rect x="2649" y="2753" width="126" height="27"/><text x="2712" y="2771">LLSimpleListener</text></g>
</svg>
